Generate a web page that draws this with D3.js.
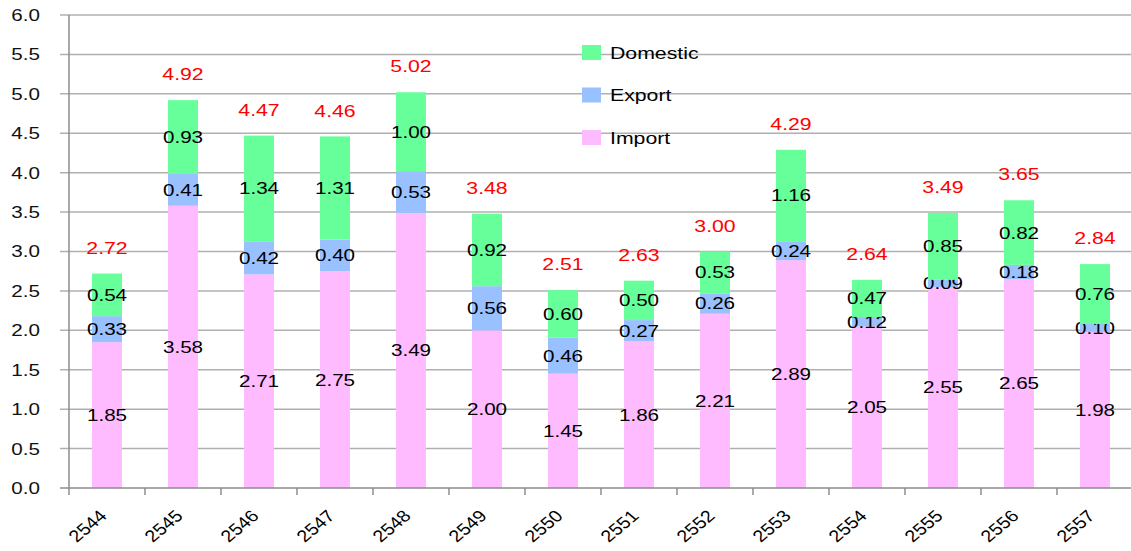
<!DOCTYPE html>
<html>
<head>
<meta charset="utf-8">
<script src="https://cdn.jsdelivr.net/npm/d3@7/dist/d3.min.js"></script>
<style>
  body { margin: 0; background: #fff; }
  svg { display: block; font-family: "Liberation Sans", Arial, sans-serif; }
</style>
</head>
<body>
<div id="chart"></div>
<script>
const years = ['2544', '2545', '2546', '2547', '2548', '2549', '2550', '2551', '2552', '2553', '2554', '2555', '2556', '2557'];
const importVals = [1.85, 3.58, 2.71, 2.75, 3.49, 2.00, 1.45, 1.86, 2.21, 2.89, 2.05, 2.55, 2.65, 1.98];
const exportVals = [0.33, 0.41, 0.42, 0.40, 0.53, 0.56, 0.46, 0.27, 0.26, 0.24, 0.12, 0.09, 0.18, 0.10];
const domesticVals = [0.54, 0.93, 1.34, 1.31, 1.00, 0.92, 0.60, 0.50, 0.53, 1.16, 0.47, 0.85, 0.82, 0.76];
const totals = [2.72, 4.92, 4.47, 4.46, 5.02, 3.48, 2.51, 2.63, 3.00, 4.29, 2.64, 3.49, 3.65, 2.84];
const yTicks = [0, 0.5, 1, 1.5, 2, 2.5, 3, 3.5, 4, 4.5, 5, 5.5, 6];

const seriesKeys = ['Import', 'Export', 'Domestic'];
const colors = { Import: '#ffbbff', Export: '#99c0ff', Domestic: '#66ff99' };

const width = 1131, height = 551;
const margin = { left: 69, right: -2, top: 15, bottom: 63 };
const sx = 1.25; // the original text is a bit stretched sideways

const rows = years.map((y, i) => ({
  year: y, Import: importVals[i], Export: exportVals[i], Domestic: domesticVals[i], total: totals[i]
}));

const svg = d3.select('#chart').append('svg')
  .attr('width', width).attr('height', height);

const x = d3.scaleBand().domain(years)
  .range([margin.left, width - margin.right]).paddingInner(0).paddingOuter(0);
const y = d3.scaleLinear().domain([0, 6]).range([height - margin.bottom, margin.top]);
const cx = d => x(d) + x.bandwidth() / 2;

// gridlines
svg.append('g').selectAll('line').data(yTicks.filter(t => t > 0)).join('line')
  .attr('x1', 60).attr('x2', width)
  .attr('y1', d => y(d)).attr('y2', d => y(d))
  .attr('stroke', '#b0b0b0').attr('stroke-width', 1.5);

// y tick labels
svg.append('g').selectAll('text').data(yTicks).join('text')
  .attr('transform', d => `translate(40,${y(d)}) scale(${sx},1)`).attr('dy', '0.36em')
  .attr('text-anchor', 'end').attr('font-size', 16.5).attr('fill', '#111')
  .text(d => d.toFixed(1));

// stacked bars
const stack = d3.stack().keys(seriesKeys)(rows);
const barW = 30;
const layers = svg.append('g').selectAll('g').data(stack).join('g')
  .attr('fill', d => colors[d.key]);
layers.selectAll('rect').data(d => d).join('rect')
  .attr('x', d => cx(d.data.year) - barW / 2)
  .attr('width', barW)
  .attr('y', d => y(d[1]))
  .attr('height', d => y(d[0]) - y(d[1]));

// segment labels
layers.selectAll('text').data(d => d.map(v => Object.assign({ key: d.key }, v))).join('text')
  .attr('transform', d => `translate(${cx(d.data.year)},${y((d[0] + d[1]) / 2)}) scale(${sx},1)`)
  .attr('dy', '0.36em')
  .attr('text-anchor', 'middle').attr('font-size', 16.5).attr('fill', '#000')
  .text(d => d.data[d.key].toFixed(2));

// totals
svg.append('g').selectAll('text').data(rows).join('text')
  .attr('transform', d => `translate(${cx(d.year)},${y(d.Import + d.Export + d.Domestic) - 26}) scale(${sx},1)`)
  .attr('dy', '0.36em')
  .attr('text-anchor', 'middle').attr('font-size', 17).attr('fill', '#ff0000')
  .text(d => d.total.toFixed(2));

// axes lines
const axisColor = '#8c8c8c';
svg.append('line').attr('x1', margin.left).attr('x2', margin.left)
  .attr('y1', y(6)).attr('y2', y(0)).attr('stroke', axisColor).attr('stroke-width', 1.5);
svg.append('line').attr('x1', 60).attr('x2', width)
  .attr('y1', y(0)).attr('y2', y(0)).attr('stroke', axisColor).attr('stroke-width', 1.5);
svg.append('g').selectAll('line').data(years.concat(['end'])).join('line')
  .attr('x1', (d, i) => margin.left + i * x.bandwidth())
  .attr('x2', (d, i) => margin.left + i * x.bandwidth())
  .attr('y1', y(0)).attr('y2', y(0) + 7)
  .attr('stroke', axisColor).attr('stroke-width', 1.5);

// x labels
svg.append('g').selectAll('text').data(years).join('text')
  .attr('transform', d => `translate(${cx(d) + 1},${y(0) + 29}) scale(1.2,1) rotate(-45)`)
  .attr('text-anchor', 'end').attr('font-size', 16.5).attr('fill', '#000')
  .text(d => d);

// legend
const legend = svg.append('g').selectAll('g').data(['Domestic', 'Export', 'Import']).join('g')
  .attr('transform', (d, i) => `translate(582,${45 + i * 42.5})`);
legend.append('rect').attr('width', 19).attr('height', 15).attr('fill', d => colors[d]);
legend.append('text').attr('transform', `translate(28,7.5) scale(${sx},1)`).attr('dy', '0.36em')
  .attr('font-size', 17).attr('fill', '#000').text(d => d);
</script>
</body>
</html>
